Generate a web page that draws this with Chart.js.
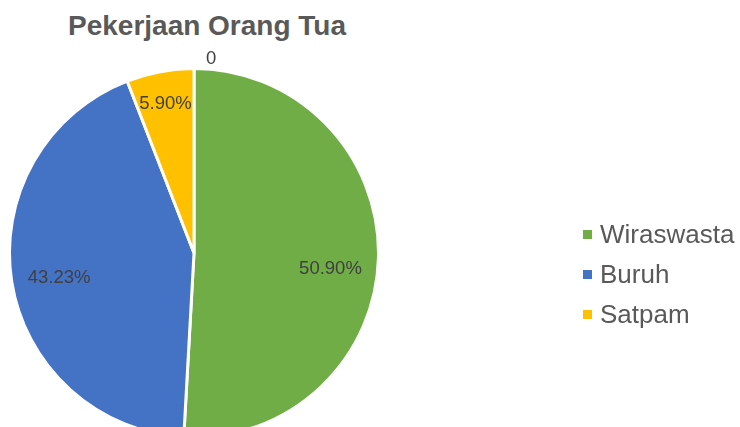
<!DOCTYPE html>
<html>
<head>
<meta charset="utf-8">
<script src="https://cdn.jsdelivr.net/npm/chart.js@4"></script>
<style>
  html, body { margin: 0; padding: 0; background: #fff; overflow: hidden; }
  #wrap { position: relative; width: 740px; height: 427px; overflow: hidden; }
  #chart { position: absolute; left: 0; top: 0; }
  #title { position: absolute; left: 0; width: 414px; top: 10px; text-align: center;
    font: bold 28px "Liberation Sans", Arial, sans-serif; color: #595959; }
  #legend { position: absolute; left: 583px; top: 218px; font: 26px "Liberation Sans", Arial, sans-serif; color: #595959; }
  #legend div { height: 40px; line-height: 32px; white-space: nowrap; }
  #legend span { display: inline-block; width: 9px; height: 9px; margin-right: 8px; vertical-align: 4px; }
</style>
</head>
<body>
<div id="wrap">
  <div id="title"></div>
  <canvas id="chart" width="740" height="445"></canvas>
  <div id="legend"></div>
</div>
<script>
const TITLE = 'Pekerjaan Orang Tua';
const categories = ['Wiraswasta', 'Buruh', 'Satpam', ''];
const values = [50.90, 43.23, 5.90, 0];
const colors = ['#70AD47', '#4472C4', '#FFC000', '#A5A5A5'];

document.getElementById('title').textContent = TITLE;

const legend = document.getElementById('legend');
categories.forEach((c, i) => {
  if (!c) return;
  const row = document.createElement('div');
  row.innerHTML = `<span style="background:${colors[i]}"></span>${c}`;
  legend.appendChild(row);
});

const fmt = v => v === 0 ? '0' : v.toFixed(2) + '%';

// data labels drawn on top of the slices
const pieLabels = {
  id: 'pieLabels',
  afterDatasetsDraw(chart) {
    const { ctx } = chart;
    const meta = chart.getDatasetMeta(0);
    ctx.save();
    ctx.font = '18.5px "Liberation Sans", Arial, sans-serif';
    ctx.fillStyle = '#404040';
    ctx.textBaseline = 'middle';
    meta.data.forEach((arc, i) => {
      const { x, y, startAngle, endAngle, outerRadius } = arc.getProps(['x', 'y', 'startAngle', 'endAngle', 'outerRadius'], true);
      const v = values[i];
      if (v === 0) {
        ctx.textAlign = 'left';
        ctx.fillText(fmt(v), x + 12, y - outerRadius - 10);
        return;
      }
      const mid = (startAngle + endAngle) / 2;
      const k = v < 10 ? 0.84 : 0.74;
      ctx.textAlign = 'center';
      ctx.fillText(fmt(v), x + Math.cos(mid) * outerRadius * k, y + Math.sin(mid) * outerRadius * k + (v > 50 ? 12 : 3));
    });
    ctx.restore();
  }
};

new Chart(document.getElementById('chart'), {
  type: 'pie',
  data: {
    labels: categories,
    datasets: [{ data: values, backgroundColor: colors, borderColor: '#fff', borderWidth: 3 }]
  },
  options: {
    responsive: false, animation: false,
    layout: { padding: { left: 8, right: 360, top: 67, bottom: 6 } },
    plugins: { legend: { display: false }, title: { display: false }, tooltip: { enabled: false } }
  },
  plugins: [pieLabels]
});
</script>
</body>
</html>
